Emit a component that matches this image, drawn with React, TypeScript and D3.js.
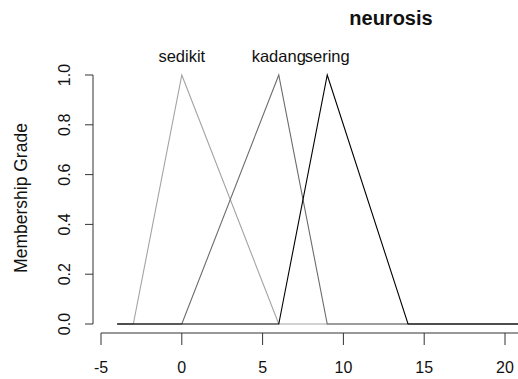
import React, { useEffect, useRef } from "react";
import * as d3 from "d3";

const WIDTH = 518;
const HEIGHT = 379;
const SET_NAMES = ["sedikit", "kadang", "sering"];
// triangle corners (a, b, c) for each set
const SET_A = [-3, 0, 6];
const SET_B = [0, 6, 9];
const SET_C = [6, 9, 14];
const SET_COLORS = ["#a3a3a3", "#6b6b6b", "#000000"];
const UNIVERSE = [-4, 26];
const X_TICKS = [-5, 0, 5, 10, 15, 20, 25];
const Y_TICKS = [0, 0.2, 0.4, 0.6, 0.8, 1.0];
const TITLE = "neurosis";
const Y_LABEL = "Membership Grade";
const FONT = "'Liberation Sans', Arial, sans-serif";

const X_SCALE = d3.scaleLinear().domain([-5, 20]).range([101, 505]);
const Y_SCALE = d3.scaleLinear().domain([0, 1]).range([324, 75]);

export default function App() {
  const ref = useRef<SVGSVGElement>(null);

  useEffect(() => {
    const svg = d3.select(ref.current);
    svg.selectAll("*").remove();

    const line = d3
      .line<{ x: number; y: number }>()
      .x((d) => X_SCALE(d.x))
      .y((d) => Y_SCALE(d.y));

    // membership curves
    SET_NAMES.forEach((name, i) => {
      const pts = [
        { x: UNIVERSE[0], y: 0 },
        { x: SET_A[i], y: 0 },
        { x: SET_B[i], y: 1 },
        { x: SET_C[i], y: 0 },
        { x: UNIVERSE[1], y: 0 },
      ];
      svg
        .append("path")
        .attr("d", line(pts))
        .attr("fill", "none")
        .attr("stroke", SET_COLORS[i])
        .attr("stroke-width", 1.1);
      svg
        .append("text")
        .attr("x", X_SCALE(SET_B[i]))
        .attr("y", Y_SCALE(1) - 13)
        .attr("text-anchor", "middle")
        .attr("font-family", FONT)
        .attr("font-size", "16.5px")
        .attr("fill", "#111")
        .text(name);
    });

    // x axis
    const xAxis = svg.append("g").attr("stroke", "#333").attr("fill", "none");
    xAxis
      .append("line")
      .attr("x1", X_SCALE(X_TICKS[0]))
      .attr("x2", X_SCALE(X_TICKS[X_TICKS.length - 1]))
      .attr("y1", 333)
      .attr("y2", 333);
    X_TICKS.forEach((t) => {
      xAxis
        .append("line")
        .attr("x1", X_SCALE(t))
        .attr("x2", X_SCALE(t))
        .attr("y1", 333)
        .attr("y2", 345);
      if (X_SCALE(t) < WIDTH)
        svg
          .append("text")
          .attr("x", X_SCALE(t))
          .attr("y", 373)
          .attr("text-anchor", "middle")
          .attr("font-family", FONT)
          .attr("font-size", "16px")
          .attr("fill", "#111")
          .text(t);
    });

    // y axis
    const yAxis = svg.append("g").attr("stroke", "#333").attr("fill", "none");
    yAxis
      .append("line")
      .attr("x1", 93)
      .attr("x2", 93)
      .attr("y1", Y_SCALE(0))
      .attr("y2", Y_SCALE(1));
    Y_TICKS.forEach((t) => {
      yAxis
        .append("line")
        .attr("x1", 85)
        .attr("x2", 93)
        .attr("y1", Y_SCALE(t))
        .attr("y2", Y_SCALE(t));
      svg
        .append("text")
        .attr("transform", `translate(70,${Y_SCALE(t)}) rotate(-90)`)
        .attr("text-anchor", "middle")
        .attr("font-family", FONT)
        .attr("font-size", "16px")
        .attr("fill", "#111")
        .text(t.toFixed(1));
    });

    svg
      .append("text")
      .attr("transform", `translate(27,198) rotate(-90)`)
      .attr("text-anchor", "middle")
      .attr("font-family", FONT)
      .attr("font-size", "17.5px")
      .attr("fill", "#111")
      .text(Y_LABEL);

    svg
      .append("text")
      .attr("x", 391)
      .attr("y", 25)
      .attr("text-anchor", "middle")
      .attr("font-family", FONT)
      .attr("font-size", "20px")
      .attr("font-weight", "bold")
      .attr("fill", "#111")
      .text(TITLE);
  }, []);

  return (
    <svg
      ref={ref}
      width={WIDTH}
      height={HEIGHT}
      style={{ position: "absolute", left: 0, top: 0, background: "#fff" }}
    />
  );
}
